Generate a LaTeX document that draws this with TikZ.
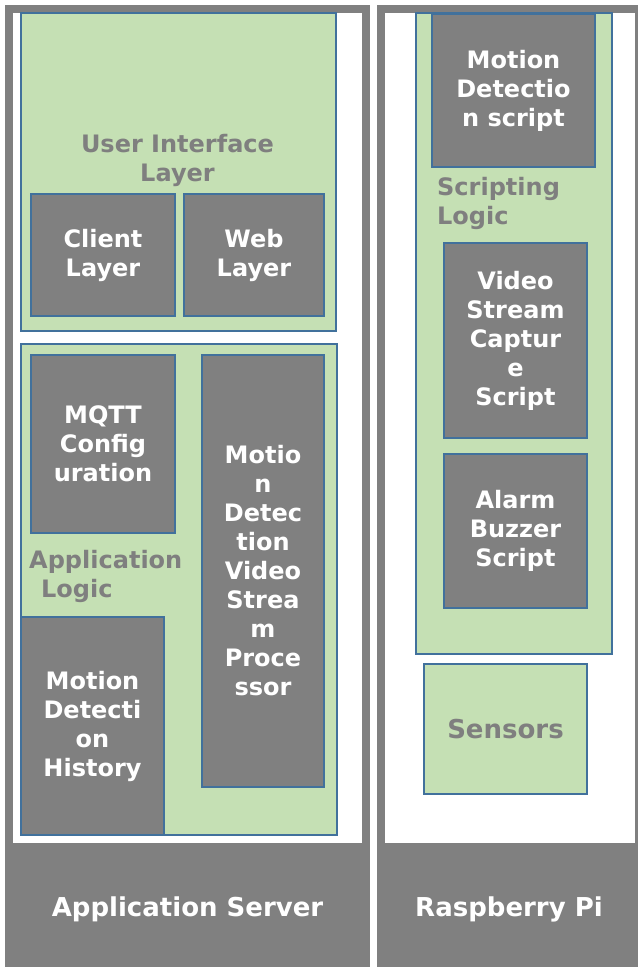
\documentclass[tikz,border=0pt]{standalone}
\usepackage{fontspec}
\setmainfont{DejaVu Sans}
\definecolor{framegray}{HTML}{808080}
\definecolor{labelgray}{HTML}{7F7F7F}
\definecolor{layergreen}{HTML}{C5E0B4}
\definecolor{edgeblue}{HTML}{41719C}
\begin{document}
\begin{tikzpicture}[x=1pt,y=-1pt,
  layer/.style={draw=edgeblue, line width=2pt, fill=layergreen, anchor=north west, inner sep=0pt},
  module/.style={draw=edgeblue, line width=2pt, fill=framegray, anchor=north west, inner sep=0pt,
    text=white, font=\bfseries\fontsize{24}{29}\selectfont, align=center},
  caption/.style={text=labelgray, font=\bfseries\fontsize{24}{29}\selectfont, inner sep=0pt},
  hostlabel/.style={text=white, font=\bfseries\fontsize{26}{31}\selectfont, inner sep=0pt}]
\useasboundingbox (0,0) rectangle (638,967);
\fill[white] (0,0) rectangle (638,967);

% host frames
\fill[framegray] (5,5) rectangle (370,967);
\fill[white] (13,13) rectangle (362,843);
\fill[framegray] (377,5) rectangle (638,967);
\fill[white] (385,13) rectangle (635,843);
\node[hostlabel] (appserver) at (187.5,909) {Application Server};
\node[hostlabel] (rpi) at (509,909) {Raspberry Pi};

% application server: user interface layer
\node[layer, minimum width=315, minimum height=318] (ui) at (20,12) {};
\node[caption, align=center] (uilabel) at (177.5,160) {User Interface\\Layer};
\node[module, minimum width=144, minimum height=122] (client) at (30,193) {Client\\Layer};
\node[module, minimum width=140, minimum height=122] (web) at (183,193) {Web\\Layer};

% application server: application logic
\node[layer, minimum width=316, minimum height=491] (applogic) at (20,343) {};
\node[module, minimum width=144, minimum height=178] (mqtt) at (30,354) {MQTT\\Config\\uration};
\node[module, minimum width=122, minimum height=432] (mdvsp) at (201,354)
  {Motio\\n\\Detec\\tion\\Video\\Strea\\m\\Proce\\ssor};
\node[caption, align=left, anchor=north west] (applabel) at (29,550) {Application\\\hspace*{12pt}Logic};
\node[module, minimum width=143, minimum height=218] (history) at (20,616) {Motion\\Detecti\\on\\History};

% raspberry pi: scripting logic
\node[layer, minimum width=196, minimum height=641] (scripting) at (415,12) {};
\node[module, minimum width=163, minimum height=153] (mdscript) at (431,13) {Motion\\Detectio\\n script};
\node[caption, align=left, anchor=north west] (scriptlabel) at (437,177) {Scripting\\Logic};
\node[module, minimum width=143, minimum height=195] (capture) at (443,242) {Video\\Stream\\Captur\\e\\Script};
\node[module, minimum width=143, minimum height=154] (buzzer) at (443,453) {Alarm\\Buzzer\\Script};

% raspberry pi: sensors
\node[layer, minimum width=163, minimum height=130, text=labelgray,
  font=\bfseries\fontsize{26}{31}\selectfont] (sensors) at (423,663) {Sensors};
\end{tikzpicture}
\end{document}
